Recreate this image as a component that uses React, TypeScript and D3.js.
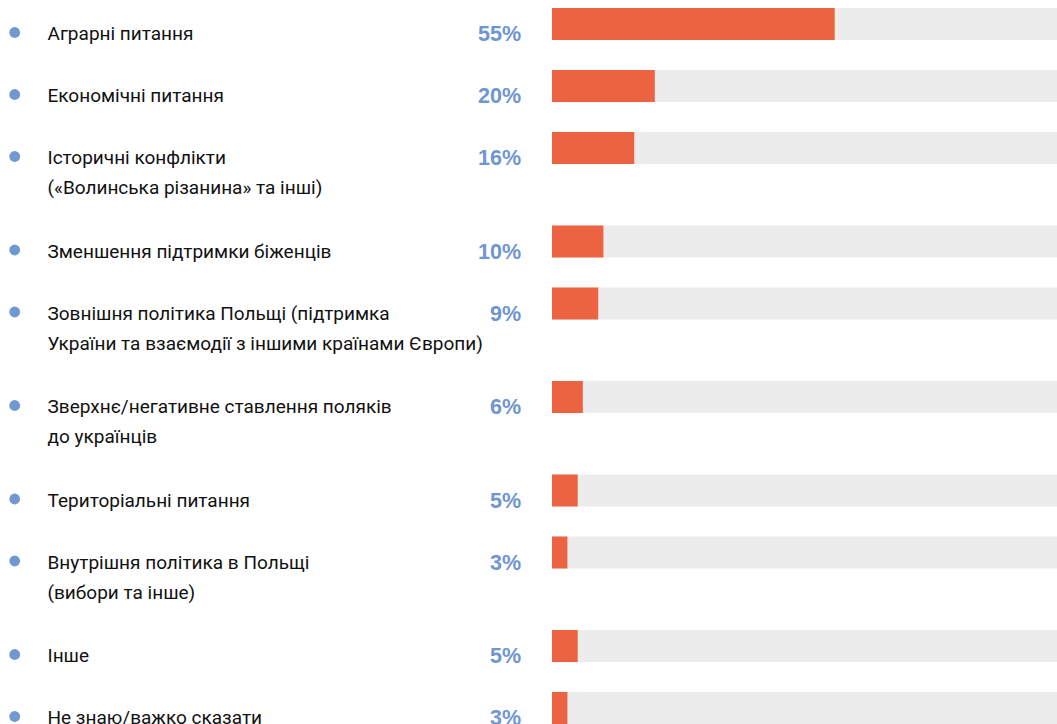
import React from "react";
import * as d3 from "d3";

const categories: string[] = [
  "Аграрні питання",
  "Економічні питання",
  "Історичні конфлікти\n(«Волинська різанина» та інші)",
  "Зменшення підтримки біженців",
  "Зовнішня політика Польщі (підтримка\nУкраїни та взаємодії з іншими країнами Європи)",
  "Зверхнє/негативне ставлення поляків\nдо українців",
  "Територіальні питання",
  "Внутрішня політика в Польщі\n(вибори та інше)",
  "Інше",
  "Не знаю/важко сказати",
];
const values: number[] = [55, 20, 16, 10, 9, 6, 5, 3, 5, 3];

const W = 1057;
const H = 724;
const BAR_X = 552;
const BAR_H = 32;
const TOP0 = 8;
const ROW_H = 62;
const EXTRA_LINE = 31.5;

export default function App() {
  const x = d3.scaleLinear().domain([0, 100]).range([0, 514]);
  const lines = categories.map((c) => c.split("\n"));
  const tops: number[] = [];
  let y = TOP0;
  lines.forEach((l) => {
    tops.push(y);
    y += ROW_H + EXTRA_LINE * (l.length - 1);
  });

  return (
    <svg
      width={W}
      height={H}
      style={{ position: "absolute", left: 0, top: 0, background: "#fff" }}
    >
      {categories.map((c, i) => {
        const t = tops[i];
        return (
          <g key={i}>
            <circle cx={14.7} cy={t + 24.5} r={5.4} fill="#7098d1" />
            <text
              x={47.5}
              y={t + 32}
              fontFamily="Roboto, 'Noto Sans', sans-serif"
              fontSize={19}
              fill="#111"
            >
              {lines[i].map((ln, j) => (
                <tspan key={j} x={47.5} dy={j === 0 ? 0 : 30}>
                  {ln}
                </tspan>
              ))}
            </text>
            <text
              x={521}
              y={t + 33}
              textAnchor="end"
              fontFamily="'Liberation Sans', Arial, sans-serif"
              fontWeight="bold"
              fontSize={21.5}
              fill="#6f96d0"
            >
              {values[i]}%
            </text>
            <rect x={BAR_X} y={t} width={x(100)} height={BAR_H} fill="#ececec" />
            <rect x={BAR_X} y={t} width={x(values[i])} height={BAR_H} fill="#eb6341" />
          </g>
        );
      })}
    </svg>
  );
}
